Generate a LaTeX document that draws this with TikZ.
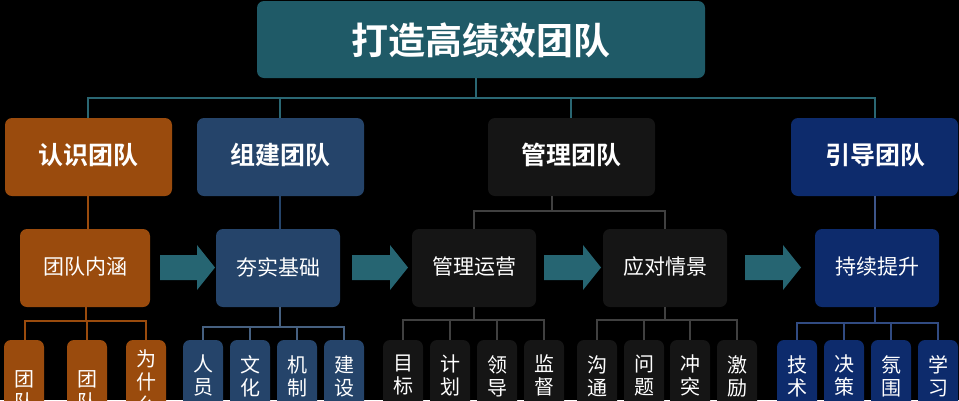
\documentclass[tikz,border=0pt]{standalone}
\usepackage{fontspec}
\setmainfont{Noto Sans CJK SC}
\newfontfamily\cjkb{Noto Sans CJK SC Bold}
\begin{document}
\begin{tikzpicture}[x=1pt,y=-1pt,
  bx/.style={rounded corners=7pt,draw=none},
  ln/.style={line width=1.3pt},
  lbl/.style={text=white,inner sep=0pt},
  t3/.style={lbl,anchor=north,align=center,font=\fontsize{20}{23}\selectfont}]
\definecolor{titlec}{HTML}{1F5A67}
\definecolor{linec}{HTML}{2A6773}
\definecolor{orc}{HTML}{9A4B0D}
\definecolor{blc}{HTML}{25446A}
\definecolor{bkc}{HTML}{151515}
\definecolor{nvc}{HTML}{0D2B6C}
\definecolor{arrowc}{HTML}{266572}
\fill[black] (0,0) rectangle (959,400);
\useasboundingbox (0,0) rectangle (959,400);
\clip (0,0) rectangle (959,400);
% title
\fill[titlec,bx] (257,1) rectangle (705,78);
\node[lbl,font=\cjkb\fontsize{37}{37}\selectfont] (title) at (481,40) {打造高绩效团队};
% level 1
\fill[orc,bx] (5,118) rectangle (172,196);
\fill[blc,bx] (197,118) rectangle (364,196);
\fill[bkc,bx] (488,118) rectangle (655,196);
\fill[nvc,bx] (791,118) rectangle (958,196);
\node[lbl,font=\cjkb\fontsize{25}{25}\selectfont] (a1) at (88,155) {认识团队};
\node[lbl,font=\cjkb\fontsize{25}{25}\selectfont] (b1) at (280,155) {组建团队};
\node[lbl,font=\cjkb\fontsize{25}{25}\selectfont] (c1) at (571,155) {管理团队};
\node[lbl,font=\cjkb\fontsize{25}{25}\selectfont] (d1) at (875,155) {引导团队};
\draw[linec,ln] (476,78)--(476,98);
\draw[linec,ln] (88,118)--(88,98)--(875,98)--(875,118);
\draw[linec,ln] (280,98)--(280,118);
\draw[linec,ln] (571,98)--(571,118);
% level 2
\fill[orc,bx] (20,229) rectangle (150,307);
\fill[blc,bx] (216,229) rectangle (340,307);
\fill[bkc,bx] (412,229) rectangle (536,307);
\fill[bkc,bx] (603,229) rectangle (727,307);
\fill[nvc,bx] (815,229) rectangle (939,307);
\node[lbl,font=\fontsize{21}{21}\selectfont] (a2) at (85,267) {团队内涵};
\node[lbl,font=\fontsize{21}{21}\selectfont] (b2) at (278,267) {夯实基础};
\node[lbl,font=\fontsize{21}{21}\selectfont] (c2) at (474,267) {管理运营};
\node[lbl,font=\fontsize{21}{21}\selectfont] (e2) at (665,267) {应对情景};
\node[lbl,font=\fontsize{21}{21}\selectfont] (d2) at (877,267) {持续提升};
\draw[orc,ln] (88,196)--(88,229);
\draw[blc,ln] (280,196)--(280,229);
\draw[ln,draw=black!75!white] (552,196)--(552,211);
\draw[ln,draw=black!75!white] (474,229)--(474,211)--(665,211)--(665,229);
\draw[nvc!80!white,ln] (875,196)--(875,229);
% block arrows
\foreach \xa/\xb in {160/215,352/408,544/601,745/801}{
  \fill[arrowc] (\xa,255)--({\xb-18},255)--({\xb-18},245)--(\xb,267.5)--({\xb-18},290)--({\xb-18},280)--(\xa,280)--cycle;
}
% level 3 orange
\draw[orc,ln] (86,307)--(86,321);
\draw[orc,ln] (25,340)--(25,321)--(146,321)--(146,340);
\draw[orc,ln] (87,321)--(87,340);
\foreach \x/\t/\y in {24/{团\\队}/370,87/{团\\队}/370,146/{为\\什\\么}/350}{
  \fill[orc,bx] (\x-20,340) rectangle (\x+20,430);
  \node[t3] at (\x,\y) {\t};
}
% level 3 blue
\draw[blc!85!white,ln] (280,307)--(280,327);
\draw[blc!85!white,ln] (203,340)--(203,327)--(344,327)--(344,340);
\draw[blc!85!white,ln] (250,327)--(250,340);
\draw[blc!85!white,ln] (297,327)--(297,340);
\foreach \x/\t in {203/{人\\员},250/{文\\化},297/{机\\制},344/{建\\设}}{
  \fill[blc,bx] (\x-20,340) rectangle (\x+20,430);
  \node[t3] at (\x,355) {\t};
}
% level 3 black
\draw[ln,draw=black!75!white] (474,307)--(474,320);
\draw[ln,draw=black!75!white] (403,340)--(403,320)--(544,320)--(544,340);
\draw[ln,draw=black!75!white] (450,320)--(450,340);
\draw[ln,draw=black!75!white] (497,320)--(497,340);
\draw[ln,draw=black!75!white] (665,307)--(665,320);
\draw[ln,draw=black!75!white] (597,340)--(597,320)--(737,320)--(737,340);
\draw[ln,draw=black!75!white] (644,320)--(644,340);
\draw[ln,draw=black!75!white] (690,320)--(690,340);
\foreach \x/\t in {403/{目\\标},450/{计\\划},497/{领\\导},544/{监\\督},597/{沟\\通},644/{问\\题},690/{冲\\突},737/{激\\励}}{
  \fill[bkc,bx] (\x-20,340) rectangle (\x+20,430);
  \node[t3] at (\x,355) {\t};
}
% level 3 navy
\draw[nvc!85!white,ln] (875,307)--(875,323);
\draw[nvc!85!white,ln] (797,340)--(797,323)--(938,323)--(938,340);
\draw[nvc!85!white,ln] (844,323)--(844,340);
\draw[nvc!85!white,ln] (891,323)--(891,340);
\foreach \x/\t in {797/{技\\术},844/{决\\策},891/{氛\\围},938/{学\\习}}{
  \fill[nvc,bx] (\x-20,340) rectangle (\x+20,430);
  \node[t3] at (\x,355) {\t};
}
\end{tikzpicture}
\end{document}
